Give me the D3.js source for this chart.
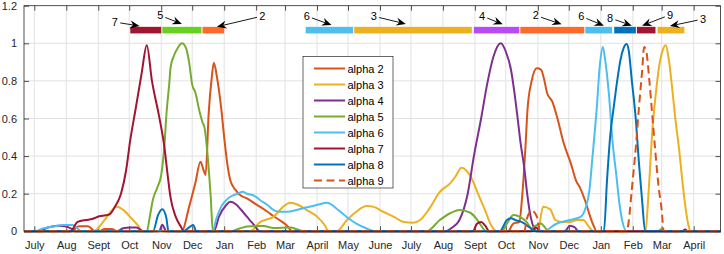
<!DOCTYPE html>
<html><head><meta charset="utf-8">
<script src="https://cdn.jsdelivr.net/npm/d3@7"></script>
<style>
html,body{margin:0;padding:0;background:#fff;}
svg{display:block;font-family:"Liberation Sans",Arial,Helvetica,sans-serif;}
</style></head>
<body><svg id="chart" width="724" height="254"></svg>
<script>
// ---------------- data ----------------
const domainStart = "2020-06-21", domainEnd = "2022-04-27";
const firstTick = "2020-07-01";
const yTicks = [0, 0.2, 0.4, 0.6, 0.8, 1, 1.2];
const yTickLabels = ["0", "0.2", "0.4", "0.6", "0.8", "1", "1.2"];
const monthLabels = ["Jan","Feb","Mar","April","May","June","July","Aug","Sept","Oct","Nov","Dec"];

const seriesNames = ["alpha 2","alpha 3","alpha 4","alpha 5","alpha 6","alpha 7","alpha 8","alpha 9"];
const seriesColors = ["#D95319","#EDB120","#7E2F8E","#77AC30","#4DBEEE","#A2142F","#0072BD","#D95319"];
const seriesDashed = [false,false,false,false,false,false,false,true];

const alpha2 = [["2020-06-21",0],["2020-08-06",0],["2020-08-13",0.027],["2020-08-22",0.027],["2020-08-29",0],["2020-09-02",0],["2020-09-07",0.012],["2020-09-14",0.012],["2020-09-19",0],["2020-11-21",0],["2020-11-28",0.13],["2020-12-04",0.255],["2020-12-09",0.37],["2020-12-12",0.326],["2020-12-14",0.30],["2020-12-17",0.63],["2020-12-20",0.82],["2020-12-22",0.897],["2020-12-25",0.82],["2020-12-29",0.66],["2021-01-01",0.5],["2021-01-04",0.36],["2021-01-07",0.27],["2021-01-12",0.22],["2021-01-17",0.19],["2021-01-23",0.175],["2021-01-30",0.15],["2021-02-05",0.13],["2021-02-12",0.104],["2021-02-18",0.08],["2021-02-25",0.055],["2021-03-03",0.03],["2021-03-08",0],["2021-10-03",0],["2021-10-08",0.04],["2021-10-14",0.05],["2021-10-17",0.2],["2021-10-20",0.45],["2021-10-22",0.65],["2021-10-26",0.8],["2021-10-31",0.867],["2021-11-04",0.86],["2021-11-07",0.81],["2021-11-10",0.734],["2021-11-15",0.69],["2021-11-20",0.6],["2021-11-26",0.47],["2021-12-03",0.36],["2021-12-08",0.27],["2021-12-12",0.23],["2021-12-17",0.16],["2021-12-21",0.09],["2021-12-25",0.03],["2021-12-28",0],["2022-04-27",0]];

const alpha3 = [["2020-06-21",0],["2020-08-27",0],["2020-09-07",0.06],["2020-09-13",0.104],["2020-09-19",0.13],["2020-09-26",0.11],["2020-10-03",0.07],["2020-10-09",0.034],["2020-10-14",0],["2021-01-26",0],["2021-02-05",0.05],["2021-02-18",0.078],["2021-02-27",0.13],["2021-03-06",0.152],["2021-03-14",0.14],["2021-03-22",0.113],["2021-04-01",0.078],["2021-04-09",0.028],["2021-04-12",0],["2021-04-20",0],["2021-04-30",0.06],["2021-05-09",0.104],["2021-05-19",0.134],["2021-05-26",0.13],["2021-06-04",0.104],["2021-06-14",0.078],["2021-06-24",0.05],["2021-07-03",0.046],["2021-07-10",0.06],["2021-07-19",0.122],["2021-07-29",0.21],["2021-08-08",0.255],["2021-08-13",0.29],["2021-08-19",0.338],["2021-08-28",0.29],["2021-09-04",0.2],["2021-09-11",0.11],["2021-09-16",0.04],["2021-09-22",0],["2021-11-01",0],["2021-11-06",0.13],["2021-11-13",0.117],["2021-11-18",0.06],["2021-11-24",0.05],["2021-12-02",0.05],["2021-12-09",0.06],["2021-12-15",0.06],["2021-12-21",0.02],["2021-12-25",0],["2022-02-13",0],["2022-02-17",0.27],["2022-02-20",0.54],["2022-02-23",0.716],["2022-02-26",0.858],["2022-03-02",0.964],["2022-03-05",0.99],["2022-03-08",0.91],["2022-03-11",0.77],["2022-03-14",0.61],["2022-03-18",0.43],["2022-03-21",0.27],["2022-03-24",0.13],["2022-03-27",0.03],["2022-03-29",0],["2022-04-27",0]];

const alpha4 = [["2020-06-21",0],["2020-07-05",0],["2020-07-14",0.02],["2020-07-24",0.03],["2020-08-01",0.025],["2020-08-07",0.01],["2020-08-10",0],["2020-09-19",0],["2020-09-25",0.016],["2020-10-02",0.02],["2020-10-08",0.02],["2020-10-15",0],["2020-10-30",0],["2020-11-02",0.035],["2020-11-06",0],["2020-12-22",0],["2020-12-27",0.078],["2021-01-03",0.14],["2021-01-07",0.157],["2021-01-12",0.145],["2021-01-19",0.104],["2021-01-25",0.065],["2021-02-01",0.02],["2021-02-04",0],["2021-08-03",0],["2021-08-10",0.02],["2021-08-17",0.06],["2021-08-25",0.2],["2021-08-31",0.4],["2021-09-07",0.6],["2021-09-13",0.787],["2021-09-19",0.93],["2021-09-26",1.0],["2021-10-01",0.955],["2021-10-06",0.858],["2021-10-09",0.75],["2021-10-12",0.62],["2021-10-15",0.48],["2021-10-19",0.33],["2021-10-22",0.184],["2021-10-25",0.078],["2021-10-28",0.02],["2021-10-31",0],["2021-11-27",0],["2021-12-02",0.03],["2021-12-07",0.02],["2021-12-10",0],["2022-04-27",0]];

const alpha5 = [["2020-06-21",0],["2020-10-18",0],["2020-10-21",0.08],["2020-10-24",0.17],["2020-10-28",0.23],["2020-11-01",0.3],["2020-11-04",0.45],["2020-11-06",0.62],["2020-11-09",0.8],["2020-11-10",0.87],["2020-11-13",0.93],["2020-11-17",0.975],["2020-11-21",1.0],["2020-11-25",0.975],["2020-11-28",0.9],["2020-12-01",0.78],["2020-12-04",0.74],["2020-12-08",0.64],["2020-12-11",0.58],["2020-12-13",0.55],["2020-12-16",0.4],["2020-12-19",0.18],["2020-12-21",0],["2021-01-07",0],["2021-01-16",0.015],["2021-01-23",0.025],["2021-02-02",0.028],["2021-02-08",0.028],["2021-02-18",0.018],["2021-03-06",0.02],["2021-03-13",0.01],["2021-03-19",0],["2021-07-16",0],["2021-07-29",0.06],["2021-08-08",0.096],["2021-08-17",0.113],["2021-08-27",0.1],["2021-09-02",0.07],["2021-09-07",0.03],["2021-09-12",0],["2021-09-27",0],["2021-10-02",0.04],["2021-10-07",0.083],["2021-10-09",0.087],["2021-10-15",0.075],["2021-10-21",0.05],["2021-10-26",0.015],["2021-10-30",0.03],["2021-11-04",0.042],["2021-11-08",0.02],["2021-11-11",0],["2022-02-25",0],["2022-03-01",0.012],["2022-03-04",0],["2022-04-27",0]];

const alpha6 = [["2020-06-21",0],["2020-07-01",0],["2020-07-10",0.016],["2020-07-19",0.025],["2020-07-29",0.034],["2020-08-07",0.034],["2020-08-12",0.015],["2020-08-16",0],["2020-12-21",0],["2020-12-24",0.06],["2020-12-29",0.13],["2021-01-03",0.166],["2021-01-07",0.184],["2021-01-14",0.2],["2021-01-19",0.21],["2021-01-23",0.2],["2021-01-30",0.19],["2021-02-05",0.165],["2021-02-12",0.14],["2021-02-18",0.113],["2021-02-24",0.104],["2021-03-03",0.104],["2021-03-12",0.113],["2021-03-20",0.125],["2021-04-01",0.14],["2021-04-11",0.152],["2021-04-20",0.12],["2021-04-30",0.075],["2021-05-10",0.038],["2021-05-19",0.015],["2021-05-27",0],["2021-11-06",0],["2021-11-19",0.04],["2021-12-02",0.06],["2021-12-12",0.075],["2021-12-17",0.12],["2021-12-21",0.22],["2021-12-24",0.4],["2021-12-28",0.65],["2021-12-31",0.88],["2022-01-03",0.98],["2022-01-05",0.92],["2022-01-09",0.72],["2022-01-12",0.5],["2022-01-16",0.3],["2022-01-19",0.15],["2022-01-22",0.05],["2022-01-26",0],["2022-04-27",0]];

const alpha7 = [["2020-06-21",0],["2020-08-05",0],["2020-08-12",0.05],["2020-08-20",0.06],["2020-08-26",0.065],["2020-09-02",0.08],["2020-09-08",0.085],["2020-09-12",0.09],["2020-09-17",0.13],["2020-09-23",0.2],["2020-09-28",0.326],["2020-10-02",0.486],["2020-10-07",0.645],["2020-10-13",0.84],["2020-10-18",0.99],["2020-10-23",0.80],["2020-10-30",0.61],["2020-11-04",0.45],["2020-11-07",0.31],["2020-11-10",0.18],["2020-11-15",0.078],["2020-11-20",0.025],["2020-11-23",0],["2021-08-30",0],["2021-09-03",0.04],["2021-09-07",0.05],["2021-09-11",0.03],["2021-09-15",0],["2021-10-26",0],["2021-10-30",0.02],["2021-11-03",0],["2022-03-21",0],["2022-03-24",0.01],["2022-03-26",0],["2022-04-27",0]];

const alpha8 = [["2020-06-21",0],["2020-10-24",0],["2020-10-29",0.087],["2020-11-02",0.117],["2020-11-06",0.07],["2020-11-08",0],["2020-11-22",0],["2020-11-29",0.025],["2020-12-02",0.034],["2020-12-05",0],["2021-09-25",0],["2021-10-02",0.06],["2021-10-06",0.07],["2021-10-10",0.06],["2021-10-18",0.045],["2021-10-24",0.02],["2021-10-30",0],["2022-01-04",0],["2022-01-07",0.27],["2022-01-10",0.5],["2022-01-14",0.68],["2022-01-17",0.805],["2022-01-20",0.91],["2022-01-23",0.973],["2022-01-26",0.996],["2022-01-28",0.964],["2022-01-31",0.805],["2022-02-04",0.59],["2022-02-07",0.36],["2022-02-10",0.166],["2022-02-13",0],["2022-04-27",0]];

const alpha9 = [["2020-06-21",0],["2021-10-19",0],["2021-10-21",0.06],["2021-10-26",0.11],["2021-10-31",0.078],["2021-11-03",0],["2022-01-26",0],["2022-01-28",0.05],["2022-01-31",0.22],["2022-02-04",0.45],["2022-02-07",0.66],["2022-02-10",0.85],["2022-02-12",0.98],["2022-02-14",0.96],["2022-02-17",0.805],["2022-02-20",0.61],["2022-02-23",0.415],["2022-02-26",0.237],["2022-03-01",0.113],["2022-03-03",0],["2022-04-27",0]];

const seriesData = [alpha2, alpha3, alpha4, alpha5, alpha6, alpha7, alpha8, alpha9];

// dominant-variant periods (top bars)
const barStarts   = ["2020-10-02","2020-11-02","2020-12-11","2021-03-21","2021-05-07","2021-08-31","2021-10-15","2021-12-17","2022-01-14","2022-02-05","2022-02-25"];
const barEnds     = ["2020-11-01","2020-12-10","2021-01-01","2021-05-06","2021-08-29","2021-10-14","2021-12-16","2022-01-12","2022-02-04","2022-02-23","2022-03-23"];
const barVariants = [7,5,2,6,3,4,2,6,8,9,3];
const barColors = {2:"#FF6A28",3:"#EDB120",4:"#B94BF5",5:"#64D21E",6:"#4DBEEE",7:"#A2142F",8:"#0072BD",9:"#A2142F"};
const barLevel = 1.07;

// arrow annotations: label position and arrow tip (date, value)
const noteLabels   = ["7","5","2","6","3","4","2","6","8","9","3"];
const noteLabelAt  = [["2020-09-17",1.113],["2020-10-31",1.148],["2021-02-07",1.145],["2021-03-22",1.145],["2021-05-26",1.144],["2021-09-08",1.145],["2021-10-30",1.148],["2021-12-13",1.143],["2022-01-10",1.135],["2022-03-09",1.151],["2022-04-10",1.129]];
const noteTipAt    = [["2020-10-11",1.092],["2020-11-21",1.103],["2020-12-25",1.088],["2021-04-15",1.097],["2021-06-26",1.103],["2021-09-28",1.101],["2021-11-24",1.101],["2022-01-04",1.094],["2022-01-31",1.094],["2022-02-10",1.094],["2022-03-09",1.092]];

// ---------------- drawing ----------------
const L = 24, R = 720.5, T = 5.7, B = 231.3;
const parse = d3.utcParse("%Y-%m-%d");
const x = d3.scaleUtc().domain([parse(domainStart), parse(domainEnd)]).range([L, R]);
const y = d3.scaleLinear().domain([0, 1.2]).range([B, T]);
const svg = d3.select("#chart");
const axisColor = "#262626";
const monthTicks = d3.utcMonth.range(parse(firstTick), parse(domainEnd));
const monthFmt = d => monthLabels[d.getUTCMonth()];

// grid
const grid = svg.append("g").attr("stroke", "#e2e2e2").attr("stroke-width", 1);
grid.selectAll("line.v").data(monthTicks).join("line").attr("class","v")
  .attr("x1", d => x(d)).attr("x2", d => x(d)).attr("y1", T).attr("y2", B);
grid.selectAll("line.h").data(yTicks.slice(1, -1)).join("line").attr("class","h")
  .attr("x1", L).attr("x2", R).attr("y1", d => y(d)).attr("y2", d => y(d));

// axes
const fontSize = 11;
function styleAxis(g) {
  g.select(".domain").remove();
  g.selectAll(".tick line").attr("stroke", axisColor).attr("stroke-width", 0.8);
  g.selectAll(".tick text").attr("fill", axisColor).attr("font-size", fontSize)
    .attr("font-family", '"Liberation Sans",Arial,Helvetica,sans-serif');
}
svg.append("g").attr("transform", `translate(0,${B})`)
  .call(d3.axisBottom(x).tickValues(monthTicks).tickFormat(monthFmt).tickSizeInner(-5).tickSizeOuter(0).tickPadding(9.5))
  .call(styleAxis);
svg.append("g").attr("transform", `translate(0,${T})`)
  .call(d3.axisTop(x).tickValues(monthTicks).tickFormat("").tickSizeInner(-5).tickSizeOuter(0))
  .call(styleAxis);
svg.append("g").attr("transform", `translate(${L},0)`)
  .call(d3.axisLeft(y).tickValues(yTicks).tickFormat((d, i) => yTickLabels[i]).tickSizeInner(-5).tickSizeOuter(0).tickPadding(7))
  .call(styleAxis);
svg.append("g").attr("transform", `translate(${R},0)`)
  .call(d3.axisRight(y).tickValues(yTicks).tickFormat("").tickSizeInner(-5).tickSizeOuter(0))
  .call(styleAxis);

// series
const line = d3.line().x(d => x(parse(d[0]))).y(d => y(d[1])).curve(d3.curveMonotoneX);
const plot = svg.append("g");
seriesData.forEach((s, i) => {
  plot.append("path").datum(s).attr("d", line)
    .attr("fill", "none").attr("stroke", seriesColors[i]).attr("stroke-width", 2)
    .attr("stroke-linejoin", "round")
    .attr("stroke-dasharray", seriesDashed[i] ? "8,4.5" : null);
});

// box
svg.append("rect").attr("x", L).attr("y", T).attr("width", R - L).attr("height", B - T)
  .attr("fill", "none").attr("stroke", axisColor).attr("stroke-width", 0.8);

// top bars
const barH = 6.6;
svg.append("g").selectAll("rect").data(barStarts).join("rect")
  .attr("x", (d, i) => x(parse(d)))
  .attr("width", (d, i) => x(parse(barEnds[i])) - x(parse(d)))
  .attr("y", y(barLevel) - barH / 2).attr("height", barH)
  .attr("fill", (d, i) => barColors[barVariants[i]]);

// arrows
const notes = svg.append("g");
noteLabels.forEach((lab, i) => {
  const lx = x(parse(noteLabelAt[i][0])), ly = y(noteLabelAt[i][1]);
  const tx = x(parse(noteTipAt[i][0])), ty = y(noteTipAt[i][1]);
  const dx = tx - lx, dy = ty - ly, len = Math.hypot(dx, dy);
  const ux = dx / len, uy = dy / len, nx = -uy, ny = ux;
  const sx = lx + ux * 5.5, sy = ly + uy * 5.5;
  const hl = 9.5, hw = 4, notch = 6.5;
  notes.append("line").attr("x1", sx).attr("y1", sy)
    .attr("x2", tx - ux * notch).attr("y2", ty - uy * notch)
    .attr("stroke", "#000").attr("stroke-width", 0.9);
  const p = [[tx, ty], [tx - ux * hl + nx * hw, ty - uy * hl + ny * hw], [tx - ux * notch, ty - uy * notch], [tx - ux * hl - nx * hw, ty - uy * hl - ny * hw]];
  notes.append("path").attr("d", "M" + p.map(q => q.join(",")).join("L") + "Z").attr("fill", "#000");
  notes.append("text").attr("x", lx).attr("y", ly).attr("text-anchor", "middle")
    .attr("dominant-baseline", "central").attr("font-size", fontSize).attr("fill", "#000").text(lab);
});

// legend
const lg = svg.append("g");
const lgX = 303, lgY = 56.5, lgW = 90, lgH = 131.5, rowH = 16;
lg.append("rect").attr("x", lgX).attr("y", lgY).attr("width", lgW).attr("height", lgH)
  .attr("fill", "#fff").attr("stroke", axisColor).attr("stroke-width", 0.7);
seriesNames.forEach((n, i) => {
  const ry = lgY + 12 + i * rowH;
  lg.append("line").attr("x1", lgX + 11).attr("x2", lgX + 42).attr("y1", ry).attr("y2", ry)
    .attr("stroke", seriesColors[i]).attr("stroke-width", 2)
    .attr("stroke-dasharray", seriesDashed[i] ? "8,4.5" : null);
  lg.append("text").attr("x", lgX + 44.5).attr("y", ry).attr("dominant-baseline", "central")
    .attr("font-size", fontSize).attr("fill", "#000").text(n);
});
</script>
</body></html>
